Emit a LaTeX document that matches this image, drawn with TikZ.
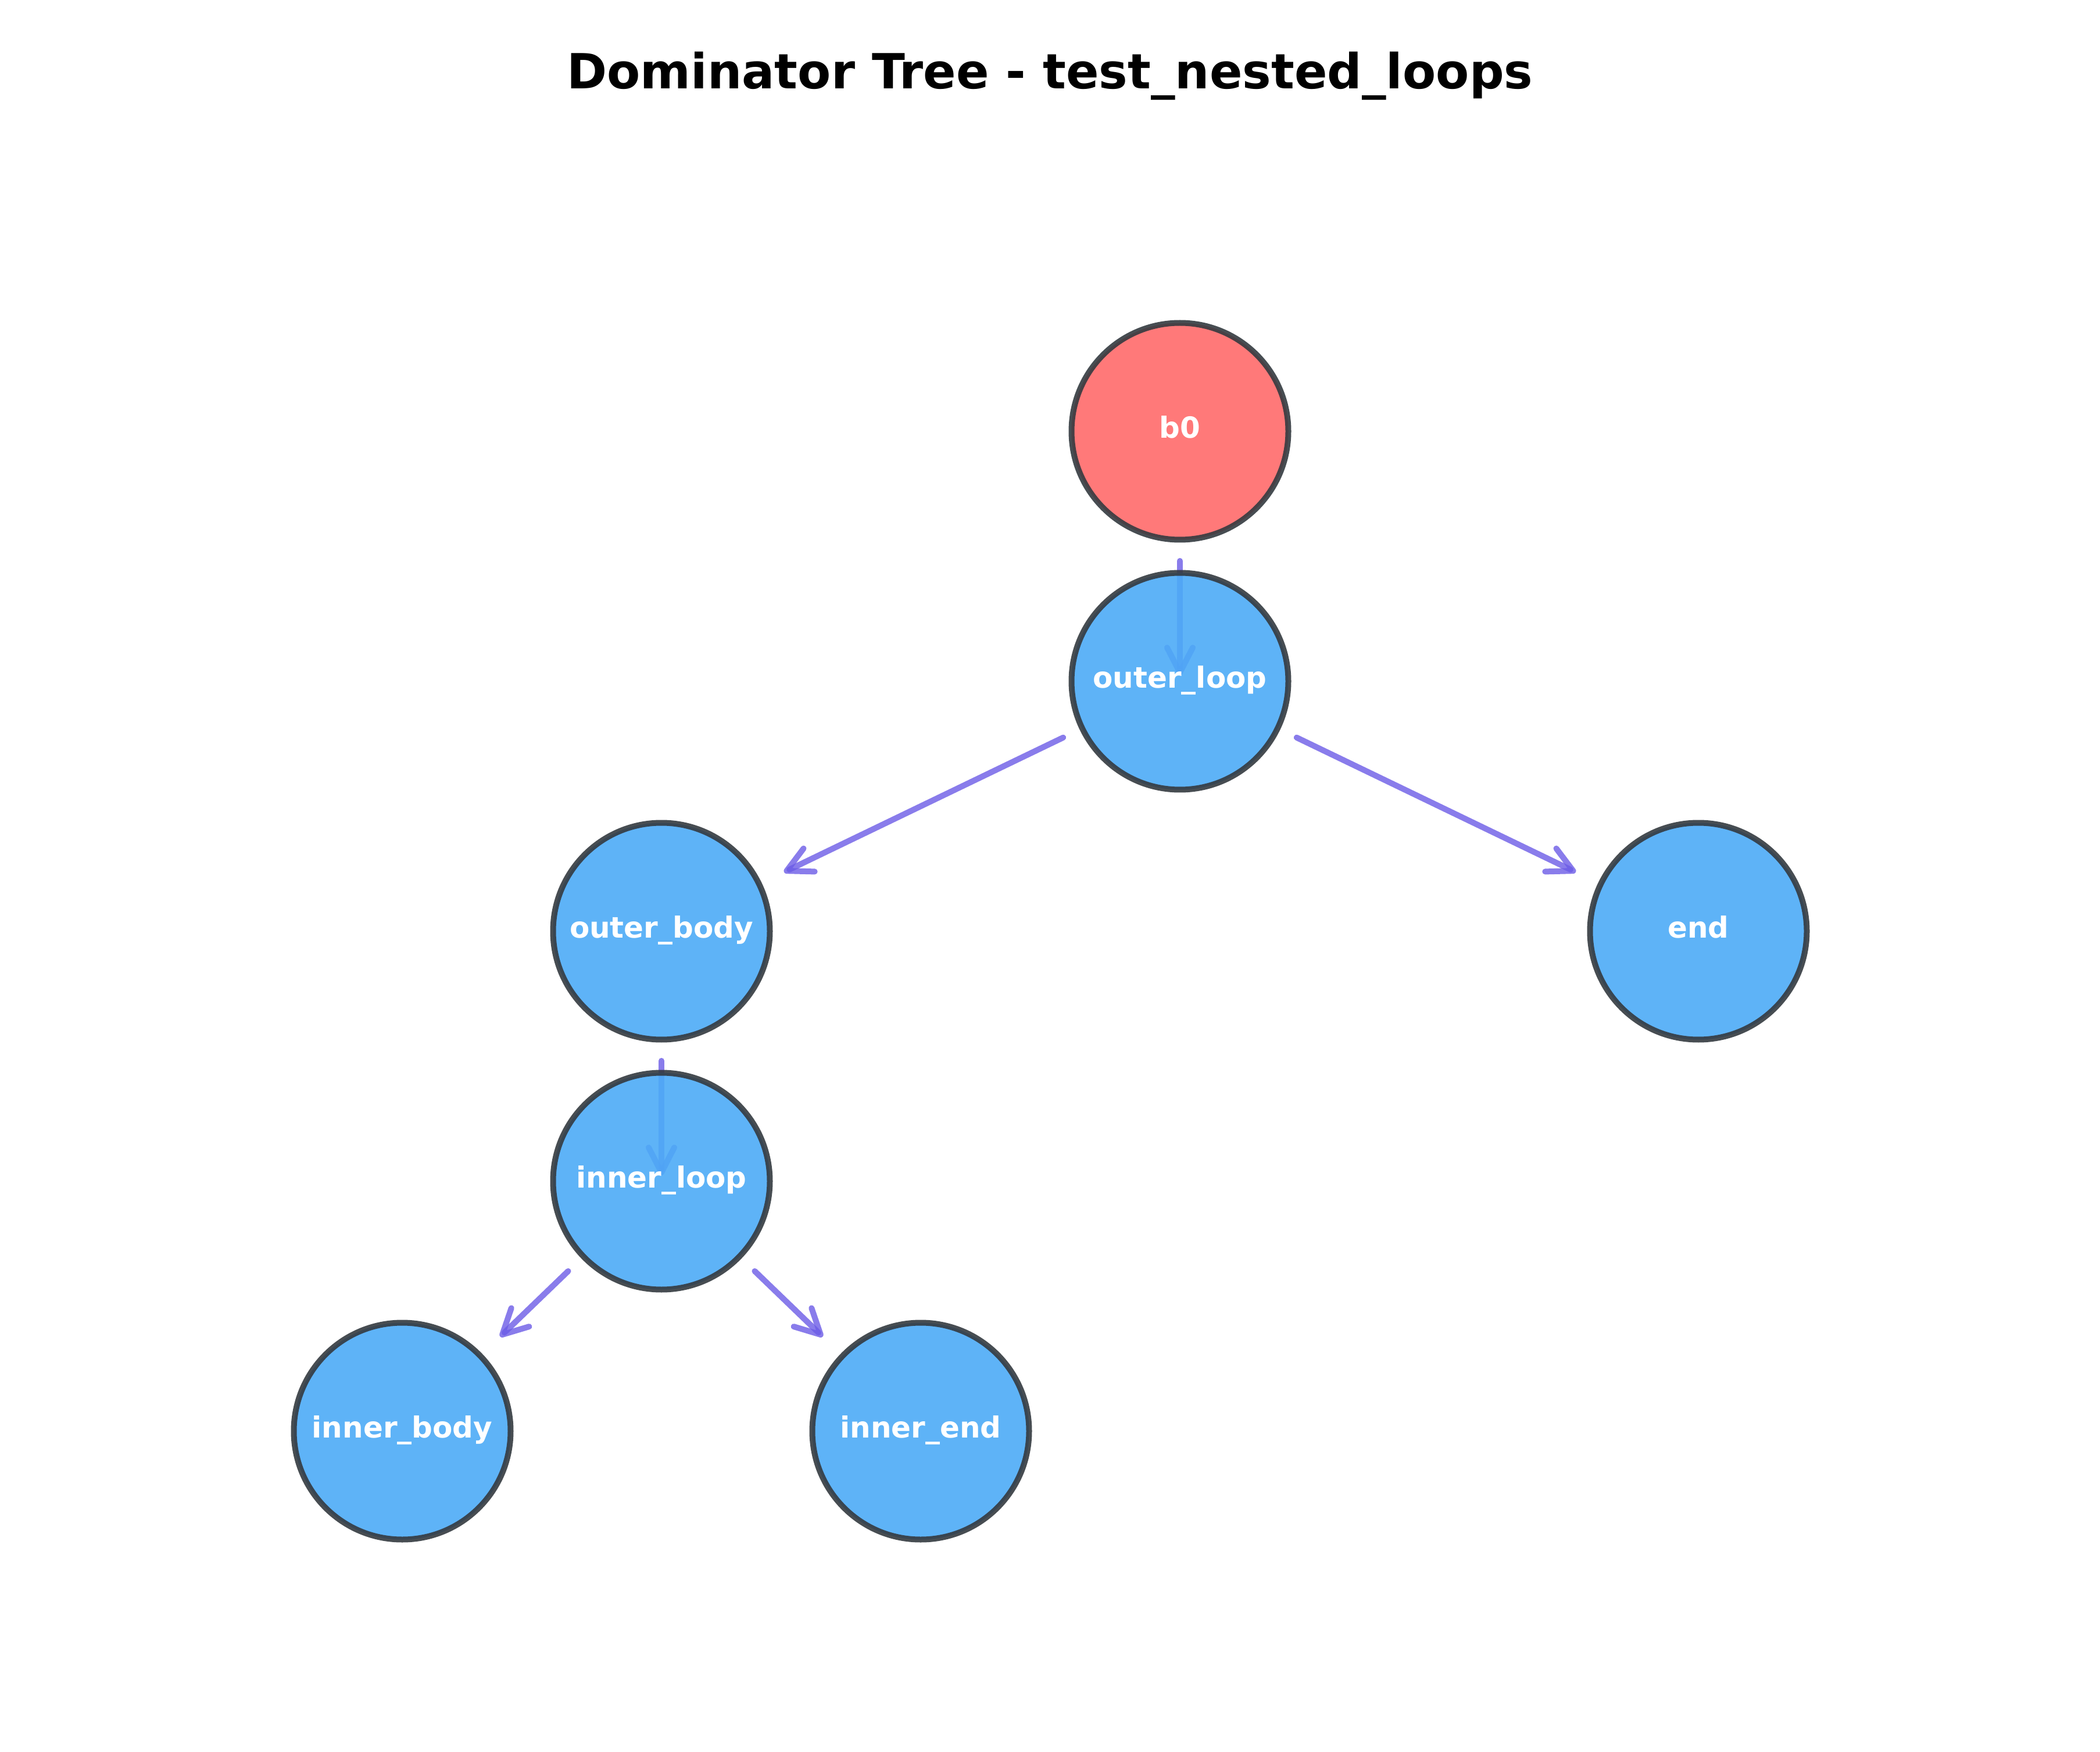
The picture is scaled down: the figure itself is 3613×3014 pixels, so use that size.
\documentclass[tikz,border=0pt]{standalone}
\usepackage{fontspec}
\setmainfont{DejaVu Sans}
\usetikzlibrary{arrows.meta}
\definecolor{edgec}{HTML}{6C5CE7}
\definecolor{nodeblue}{HTML}{4DABF7}
\definecolor{nodered}{HTML}{FF6B6B}
\definecolor{nodeline}{HTML}{343A40}
\pgfdeclarelayer{bg}
\pgfdeclarelayer{edges}
\pgfsetlayers{bg,edges,main}
\begin{document}
\begin{tikzpicture}[x=0.24pt,y=-0.24pt,
  treenode/.style={circle, minimum size=89.52pt, inner sep=0pt, outer sep=0pt,
    draw=nodeline, line width=2.4pt, draw opacity=0.9, fill opacity=0.9,
    text opacity=1, text=white, font=\fontsize{12}{14}\selectfont\bfseries,
    text height=0.76em, text depth=0.2em},
  entrynode/.style={treenode, fill=nodered},
  blocknode/.style={treenode, fill=nodeblue},
  domedge/.style={draw=edgec, draw opacity=0.8, line width=2.4pt, line cap=round,
    -{Straight Barb[length=10.3pt,width=10.6pt,round]}, shorten <=53.5pt},
  sideedge/.style={domedge, shorten >=56.2pt},
  downedge/.style={domedge, shorten >=2.4pt},
  titletext/.style={anchor=base, font=\fontsize{20}{24}\selectfont\bfseries, text=black}]
\useasboundingbox (0,0) rectangle (3613,3014);
\begin{pgfonlayer}{bg}
\fill[white] (0,0) rectangle (3613,3014);
\end{pgfonlayer}

\node[titletext] (title) at (1806.5,153) {Dominator Tree - test\_nested\_loops};

\node[entrynode] (b0) at (2030,742) {b0};
\node[blocknode] (ol) at (2030,1172) {outer\_loop};
\node[blocknode] (ob) at (1138,1602) {outer\_body};
\node[blocknode] (en) at (2922,1602) {end};
\node[blocknode] (il) at (1138,2032) {inner\_loop};
\node[blocknode] (ib) at (692,2462) {inner\_body};
\node[blocknode] (ie) at (1584,2462) {inner\_end};

\begin{pgfonlayer}{edges}
\draw[downedge] (b0.center) -- (ol.center);
\draw[sideedge] (ol.center) -- (ob.center);
\draw[sideedge] (ol.center) -- (en.center);
\draw[downedge] (ob.center) -- (il.center);
\draw[sideedge] (il.center) -- (ib.center);
\draw[sideedge] (il.center) -- (ie.center);
\end{pgfonlayer}
\end{tikzpicture}
\end{document}
